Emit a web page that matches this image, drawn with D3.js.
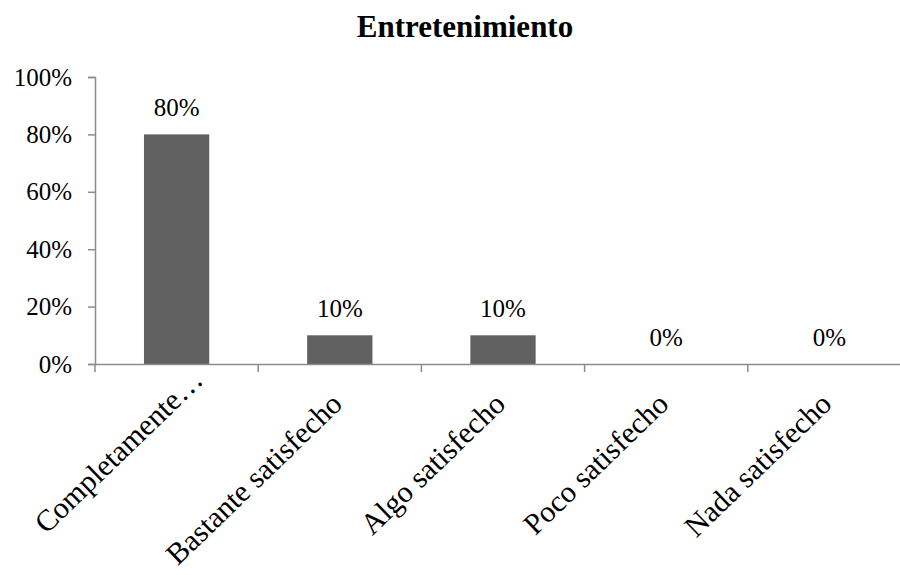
<!DOCTYPE html>
<html><head><meta charset="utf-8">
<script src="https://cdn.jsdelivr.net/npm/d3@7"></script>
<style>body{margin:0;background:#fff}</style>
</head><body>
<svg id="c" width="900" height="575"></svg>
<script>
const title = "Entretenimiento";
const categories = ["Completamente…", "Bastante satisfecho", "Algo satisfecho", "Poco satisfecho", "Nada satisfecho"];
const values = [0.80, 0.10, 0.10, 0.00, 0.00];
const yTicks = [0, 0.2, 0.4, 0.6, 0.8, 1.0];

const svg = d3.select("#c");
const font = '"Liberation Serif"';
const axisColor = "#8c8c8c";
const x = d3.scaleBand().domain(categories).range([95, 911]).padding(0);
const y = d3.scaleLinear().domain([0, 1]).range([364, 77]);
const pct = d3.format(".0%");

svg.append("text").attr("x", 465).attr("y", 37).attr("text-anchor", "middle")
  .style("font-family", font).style("font-weight", "bold").style("font-size", "31px").text(title);

// y axis
const ya = svg.append("g").attr("transform", "translate(95,0)")
  .call(d3.axisLeft(y).tickValues(yTicks).tickFormat(pct).tickSize(7).tickPadding(16));
ya.select(".domain").attr("stroke", axisColor).attr("stroke-width", 1.5);
ya.selectAll(".tick line").attr("stroke", axisColor).attr("stroke-width", 1.5);
ya.selectAll(".tick text").style("font-family", font).style("font-size", "25px").attr("fill", "#000");

// bars
const bw = x.bandwidth() * 0.4;
svg.selectAll("rect.bar").data(values).join("rect").attr("class", "bar")
  .attr("x", (d, i) => x(categories[i]) + (x.bandwidth() - bw) / 2)
  .attr("width", bw)
  .attr("y", d => y(d)).attr("height", d => y(0) - y(d))
  .attr("fill", "#606060");

// value labels
svg.selectAll("text.val").data(values).join("text").attr("class", "val")
  .attr("x", (d, i) => x(categories[i]) + x.bandwidth() / 2)
  .attr("y", d => y(d) - 18)
  .attr("text-anchor", "middle").style("font-family", font).style("font-size", "25px")
  .text(d => pct(d));

// x axis
const xa = svg.append("g").attr("transform", `translate(0,${y(0)})`)
  .call(d3.axisBottom(x).tickSize(0).tickFormat(""));
xa.select(".domain").attr("stroke", axisColor).attr("stroke-width", 1.5);
xa.selectAll(".tick").remove();
const bounds = x.domain().map(c => x(c)).concat([x.range()[1]]);
svg.selectAll("line.xt").data(bounds).join("line").attr("class", "xt")
  .attr("x1", d => d).attr("x2", d => d).attr("y1", y(0)).attr("y2", y(0) + 8)
  .attr("stroke", axisColor).attr("stroke-width", 1.5);

// category labels
svg.selectAll("text.cat").data(categories).join("text").attr("class", "cat")
  .attr("transform", (d, i) => {
    const cx = x(d) + x.bandwidth() / 2 + (i === 0 ? 28 : 4);
    const cy = y(0) + (i === 0 ? 18 : 42);
    return `translate(${cx},${cy}) rotate(-44)`;
  })
  .attr("text-anchor", "end").style("font-family", font).style("font-size", "30px")
  .text(d => d);
</script>
</body></html>
